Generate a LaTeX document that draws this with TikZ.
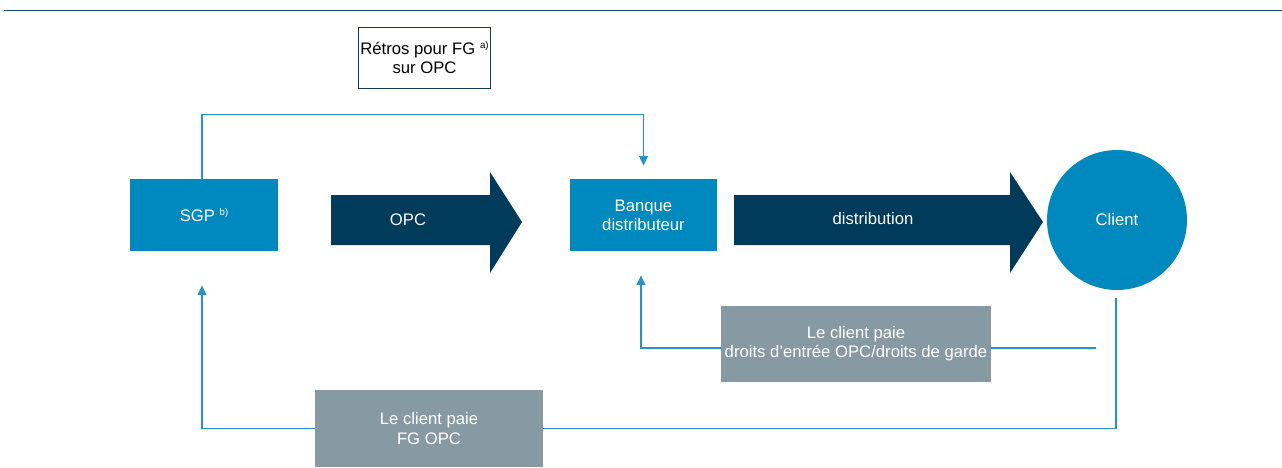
\documentclass[tikz,border=0pt]{standalone}
\usepackage{fontspec}
\setmainfont{Liberation Sans}
\usepackage{tikz}
\usetikzlibrary{arrows.meta, calc, positioning}

\definecolor{boxblue}{HTML}{0089BF}
\definecolor{navy}{HTML}{003B5C}
\definecolor{feegrey}{HTML}{8799A3}
\definecolor{linkblue}{HTML}{2592C8}
\definecolor{rulenavy}{HTML}{0B4A6B}

\tikzset{
    every node/.style={font=\fontsize{9.5}{11}\selectfont, align=center},
    party/.style={fill=boxblue, text=white, minimum width=2.96cm, minimum height=1.44cm},
    fee/.style={fill=feegrey, text=white, inner sep=0pt},
    link/.style={draw=linkblue, line width=0.8pt, -{Triangle[width=5pt,length=5.5pt]}}
}
\newcommand{\note}[1]{\raisebox{0.7ex}{\fontsize{5.5}{6}\selectfont #1}}

\begin{document}
\begin{tikzpicture}[x=0.02cm, y=-0.02cm]
    \useasboundingbox (0,0) rectangle (1282,467);
    % top rule
    \draw[rulenavy, line width=1.1pt] (4,10.5)--(1282,10.5);

    % boxes
    \node[draw=rulenavy!80!black, line width=0.5pt, inner xsep=1pt, minimum width=2.58cm, minimum height=1.22cm] (retros) at (424.5,57.5) {R\'etros pour FG \note{a)}\\sur OPC};
    \node[party] (sgp) at (204,215) {SGP \note{b)}};
    \node[party] (banque) at (643.5,215) {Banque\\distributeur};
    \node[circle, fill=boxblue, text=white, minimum size=2.8cm, inner sep=0pt] (client) at (1117,220) {Client};

    % big arrows
    \fill[navy] (331,195) -- (490,195) -- (490,172) -- (522,222) -- (490,273) -- (490,245) -- (331,245) -- cycle;
    \node[text=white] (opc) at (408,220) {OPC};
    \fill[navy] (734,195) -- (1010,195) -- (1010,172) -- (1043,222) -- (1010,273) -- (1010,245) -- (734,245) -- cycle;
    \node[text=white] (distrib) at (873,219) {distribution};

    % flows
    \draw[link, shorten >=0.26cm] ([xshift=-0.04cm]sgp.north) -- ++(0,-64) -| (banque.north);
    \draw[link, shorten <=0.16cm, shorten >=0.68cm] ([xshift=-0.02cm]client.south) -- ++(0,138) -| ([xshift=-0.04cm]sgp.south);
    \coordinate (feeend) at (1096,348);
    \draw[link, shorten >=0.48cm] (feeend) -| ([xshift=-0.05cm]banque.south);

    % fee boxes
    \node[fee, minimum width=5.4cm, minimum height=1.52cm] (entree) at (856,344) {Le client paie\\droits d\textquoteright entr\'ee OPC/droits de garde};
    \node[fee, minimum width=4.56cm, minimum height=1.54cm] (fgopc) at (429,428.5) {Le client paie\\FG OPC};
\end{tikzpicture}
\end{document}
